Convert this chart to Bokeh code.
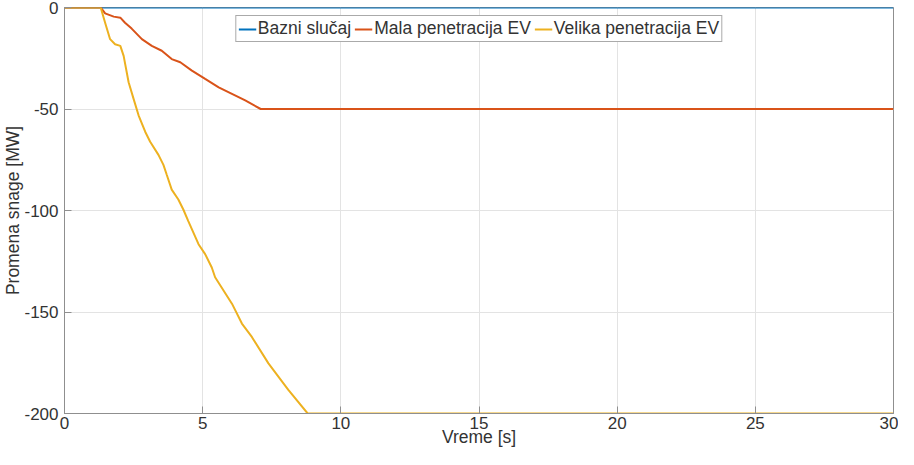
from bokeh.plotting import figure
from bokeh.models import Range1d, FixedTicker, Legend, LegendItem
from bokeh.embed import file_html
from bokeh.resources import INLINE

# Data
t_base = [0, 30]
p_base = [0, 0]

t_low = [0, 1.31, 1.47, 1.78, 2.02, 2.19, 2.43, 2.80, 3.16, 3.52, 3.88, 4.19, 4.61, 5.09, 5.58, 6.06, 6.54, 7.10, 30]
p_low = [0, 0, -2.9, -4.5, -5.0, -7.5, -10.4, -15.6, -18.9, -21.3, -25.4, -27.0, -31.1, -35.2, -39.3, -42.5, -45.8, -50, -50]

t_high = [0, 1.31, 1.47, 1.65, 1.83, 2.02, 2.14, 2.32, 2.50, 2.68, 2.92, 3.10, 3.40, 3.58, 3.70, 3.88, 4.12,
          4.30, 4.48, 4.85, 5.09, 5.33, 5.45, 6.06, 6.42, 6.78, 7.38, 8.10, 8.80, 30]
p_high = [0, 0, -7.5, -15.6, -18.1, -18.9, -23.8, -36.8, -45.0, -53.1, -61.2, -66.1, -72.6, -77.5, -82.4, -89.7, -94.6,
          -99.5, -105.2, -116.6, -121.5, -128.1, -132.9, -145.9, -155.7, -162.3, -175.3, -188.4, -200, -200]

x_ticks = [0, 5, 10, 15, 20, 25, 30]
y_ticks = [-200, -150, -100, -50, 0]

labels = ["Bazni slučaj", "Mala penetracija EV", "Velika penetracija EV"]
colors = ["#0072BD", "#D95319", "#EDB120"]

FONT = "Liberation Sans"
AX = "#8f8f8f"
TXT = "#333333"

p = figure(width=898, height=449, output_backend="svg", toolbar_location=None,
           x_range=Range1d(0, 30), y_range=Range1d(-200, 0),
           min_border_left=10, min_border_right=5, min_border_top=7, min_border_bottom=10)
p.background_fill_color = "white"
p.border_fill_color = "white"
p.outline_line_color = AX
p.outline_line_width = 1

r1 = p.line(t_base, p_base, line_color=colors[0], line_width=2)
r2 = p.line(t_low, p_low, line_color=colors[1], line_width=2)
r3 = p.line(t_high, p_high, line_color=colors[2], line_width=2)

for ax in (p.xaxis[0], p.yaxis[0]):
    ax.axis_line_color = AX
    ax.major_tick_line_color = AX
    ax.major_tick_in = 7
    ax.major_tick_out = 0
    ax.minor_tick_line_color = None
    ax.major_label_text_font = FONT
    ax.major_label_text_font_size = "17px"
    ax.major_label_text_color = TXT
    ax.axis_label_text_font = FONT
    ax.axis_label_text_font_size = "17.5px"
    ax.axis_label_text_font_style = "normal"
    ax.axis_label_text_color = TXT

p.xaxis.ticker = FixedTicker(ticks=x_ticks)
p.yaxis.ticker = FixedTicker(ticks=y_ticks)
p.yaxis.major_label_overrides = {t: str(t) for t in y_ticks}
p.xaxis.axis_label = "Vreme [s]"
p.yaxis.axis_label = "Promena snage [MW]"
p.xaxis.major_label_standoff = 3
p.xaxis.axis_label_standoff = -5
p.yaxis.major_label_standoff = 6
p.yaxis.axis_label_standoff = -2

p.xgrid.ticker = FixedTicker(ticks=x_ticks)
p.ygrid.ticker = FixedTicker(ticks=y_ticks)
p.grid.grid_line_color = "#e3e3e3"
p.grid.grid_line_width = 1

legend = Legend(items=[LegendItem(label=labels[0], renderers=[r1]),
                       LegendItem(label=labels[1], renderers=[r2]),
                       LegendItem(label=labels[2], renderers=[r3])],
                location="top", orientation="horizontal",
                label_text_font=FONT, label_text_font_size="17.5px", label_text_color=TXT,
                glyph_width=18, glyph_height=18, label_standoff=2, spacing=3, padding=2,
                margin=8, label_height=18,
                border_line_color="#555555", border_line_width=1,
                background_fill_color="white", background_fill_alpha=1)
p.add_layout(legend, "center")

open("out.html", "w").write(file_html(p, INLINE))
